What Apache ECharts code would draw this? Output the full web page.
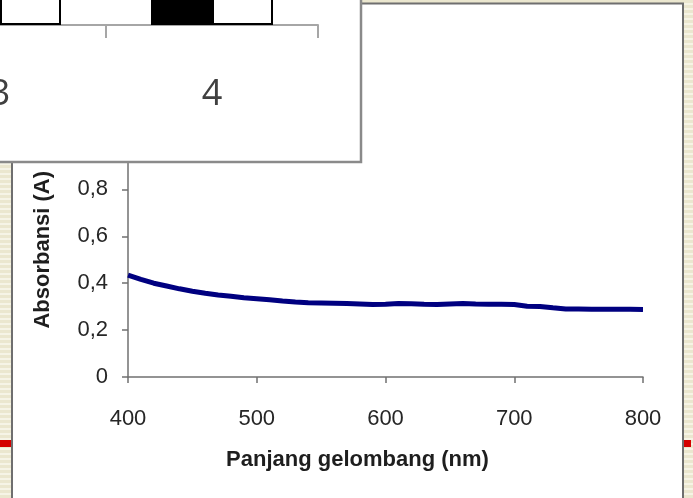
<!DOCTYPE html>
<html>
<head>
<meta charset="utf-8">
<script src="https://cdn.jsdelivr.net/npm/echarts@6/dist/echarts.min.js"></script>
<style>
  html, body { margin: 0; padding: 0; }
  body {
    width: 693px; height: 498px; overflow: hidden;
    background: repeating-linear-gradient(to bottom, #ebe7cf 0px, #ebe7cf 3px, #f6f4e6 3px, #f6f4e6 5px);
  }
  #chart { width: 693px; height: 498px; }
</style>
</head>
<body>
<div id="chart"></div>
<script>
// absorbance spectrum
const wavelengths = [400, 410, 420, 430, 440, 450, 460, 470, 480, 490,
  500, 510, 520, 530, 540, 550, 560, 570, 580, 590,
  600, 610, 620, 630, 640, 650, 660, 670, 680, 690,
  700, 710, 720, 730, 740, 750, 760, 770, 780, 790, 800];
const absorbance = [0.434, 0.416, 0.400, 0.388, 0.376, 0.366, 0.357, 0.350, 0.344, 0.338,
  0.334, 0.329, 0.324, 0.320, 0.317, 0.316, 0.315, 0.313, 0.311, 0.309,
  0.310, 0.313, 0.312, 0.310, 0.309, 0.311, 0.313, 0.311, 0.310, 0.310,
  0.309, 0.302, 0.301, 0.295, 0.290, 0.290, 0.289, 0.289, 0.289, 0.289, 0.288];

// the cut-off bar chart lying over the top left corner
const overlayCategories = ['3', '4'];
const overlayBlack = [6.5, 7];
const overlayWhite = [7, 6];

const chart = echarts.init(document.getElementById('chart'));

const font = '"Liberation Sans", Arial, sans-serif';

chart.setOption({
  animation: false,
  backgroundColor: 'transparent',
  graphic: [
    {
      type: 'rect', z: -5, silent: true,
      shape: { x: 12, y: 3.5, width: 671, height: 520 },
      style: { fill: '#ffffff', stroke: '#6f6f6f', lineWidth: 2 }
    },
    {
      type: 'rect', z: -6, silent: true,
      shape: { x: 0, y: 440, width: 12, height: 7 },
      style: { fill: '#d40000' }
    },
    {
      type: 'rect', z: -6, silent: true,
      shape: { x: 684, y: 440, width: 7, height: 7 },
      style: { fill: '#d40000' }
    },
    {
      type: 'rect', z: 50, silent: true,
      shape: { x: -5, y: -5, width: 366, height: 167 },
      style: { fill: '#ffffff', stroke: '#8a8a8a', lineWidth: 2.5 }
    }
  ],
  grid: [
    { left: 128, right: 50, top: 142.5, bottom: 121, containLabel: false, outerBoundsMode: 'none' },
    { left: -106, right: 375, top: -300, bottom: 473, containLabel: false, outerBoundsMode: 'none' }
  ],
  xAxis: [
    {
      type: 'value', gridIndex: 0,
      min: 400, max: 800, interval: 100,
      name: 'Panjang gelombang (nm)',
      nameLocation: 'middle', nameGap: 72,
      nameTextStyle: { fontFamily: font, fontWeight: 'bold', fontSize: 22, color: '#1e1e1e', padding: [0, 56, 0, 0] },
      axisLine: { lineStyle: { color: '#707070', width: 1.5 } },
      axisTick: { inside: false, length: 6, lineStyle: { color: '#707070', width: 1.5 } },
      axisLabel: { fontFamily: font, fontSize: 22, color: '#262626', margin: 31 },
      splitLine: { show: false }
    },
    {
      type: 'category', gridIndex: 1, z: 60,
      data: overlayCategories,
      boundaryGap: true,
      axisLine: { lineStyle: { color: '#a6a6a6', width: 2 } },
      axisTick: { show: true, interval: 0, alignWithLabel: false, length: 13, lineStyle: { color: '#a6a6a6', width: 2 } },
      axisLabel: { fontFamily: '"Open Sans", sans-serif', fontSize: 36, color: '#404040', margin: 52 }
    }
  ],
  yAxis: [
    {
      type: 'value', gridIndex: 0,
      min: 0, max: 1, interval: 0.2,
      name: 'Absorbansi (A)',
      nameLocation: 'middle', nameGap: 74, nameRotate: 90,
      nameTextStyle: { fontFamily: font, fontWeight: 'bold', fontSize: 22, color: '#1e1e1e', padding: [0, 0, 0, 20] },
      axisLine: { show: true, lineStyle: { color: '#707070', width: 1.5 } },
      axisTick: { show: true, inside: false, length: 6, lineStyle: { color: '#707070', width: 1.5 } },
      axisLabel: {
        fontFamily: font, fontSize: 22, color: '#262626', margin: 20,
        formatter: v => String(Math.round(v * 10) / 10).replace('.', ',')
      },
      splitLine: { show: false }
    },
    {
      type: 'value', gridIndex: 1, min: 0, max: 10, show: false,
      splitLine: { show: false }
    }
  ],
  series: [
    {
      type: 'line', xAxisIndex: 0, yAxisIndex: 0, z: 3,
      data: wavelengths.map((w, i) => [w, absorbance[i]]),
      showSymbol: false, symbol: 'none',
      lineStyle: { color: '#000080', width: 5 }
    },
    {
      type: 'bar', xAxisIndex: 1, yAxisIndex: 1, z: 60,
      data: overlayBlack, barWidth: 61, barGap: '0%',
      itemStyle: { color: '#000000', borderColor: '#000000', borderWidth: 2 }
    },
    {
      type: 'bar', xAxisIndex: 1, yAxisIndex: 1, z: 60,
      data: overlayWhite, barWidth: 61, barGap: '0%',
      itemStyle: { color: '#ffffff', borderColor: '#000000', borderWidth: 2 }
    }
  ]
});
</script>
</body>
</html>
